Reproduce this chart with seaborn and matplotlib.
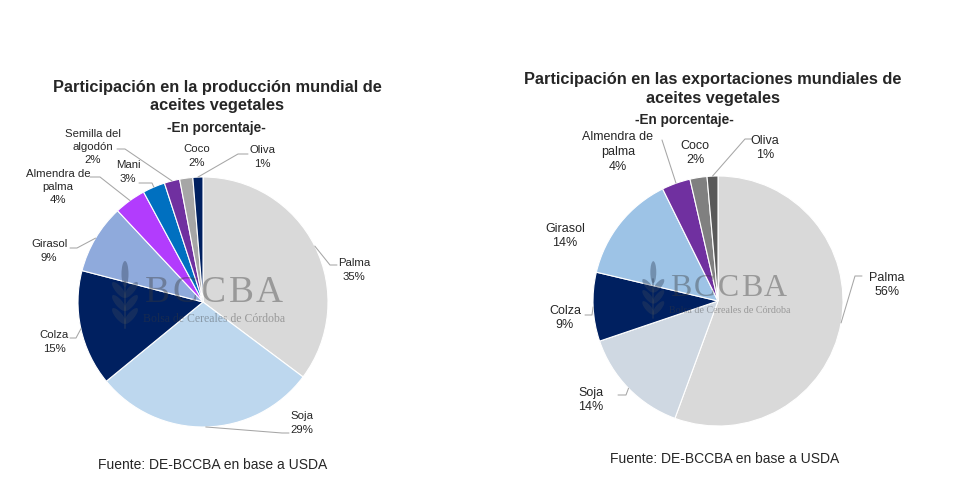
import numpy as np
import matplotlib
matplotlib.use("Agg")
import matplotlib.pyplot as plt
import seaborn as sns
from matplotlib.patches import Ellipse

sns.set_style("white")
plt.rcParams['font.family'] = ['Liberation Sans', 'DejaVu Sans']

# --- data (shares in %) ---
prod_names = ["Palma", "Soja", "Colza", "Girasol", "Almendra de\npalma", "Mani",
              "Semilla del\nalgodón", "Coco", "Oliva"]
prod_shares = [35.3, 28.9, 15.0, 9.0, 4.1, 2.9, 2.0, 1.7, 1.3]
prod_colors = ["#d9d9d9", "#bdd7ee", "#002060", "#8faadc", "#b23cfd", "#0070c0",
               "#7030a0", "#a6a6a6", "#002060"]

expo_names = ["Palma", "Soja", "Colza", "Girasol", "Almendra de\npalma", "Coco", "Oliva"]
expo_shares = [55.6, 14.2, 8.9, 14.0, 3.7, 2.2, 1.4]
expo_colors = ["#d9d9d9", "#cfd8e2", "#002060", "#9dc3e6", "#7030a0", "#808080", "#595959"]

W, H = 963, 503
R = 125

# label layout in pixels (x, y from top), leader elbow (ex, ey, end_x)
prod_label_pos = [(354, 270), (302, 423), (54, 342), (49, 251), (58, 187),
                  (128, 172), (93, 147), (197, 156), (262, 157)]
prod_leaders = [(330, 265, 337), (282, 433, 289), (76, 338, 70), (77, 248, 70),
                (100, 177, 90), (152, 183, 139), (125, 149, 117), None, (238, 154, 248)]

expo_label_pos = [(887, 285), (591, 400), (565, 318), (565, 236), (618, 152),
                  (695, 153), (765, 148)]
expo_leaders = [(855, 276, 862), (626, 395, 618), (592, 315, 585), None,
                (662, 140, 662), None, (745, 139, 752)]


def fy(y):
    return H - y


def draw_pie(ax, shares, names, colors, center, label_pos, leaders, fs, ls):
    cx, cy = center
    ax.pie(shares, colors=colors, startangle=90, counterclock=False,
           center=(cx, fy(cy)), radius=R, frame=True,
           wedgeprops=dict(edgecolor="white", linewidth=0.8))
    total = sum(shares)
    cum = np.cumsum([0] + list(shares))
    for i, (name, v) in enumerate(zip(names, shares)):
        mid = np.deg2rad(90 - 360 * (cum[i] + v / 2) / total)
        px, py = cx + R * np.cos(mid), fy(cy) + R * np.sin(mid)
        lx, ly = label_pos[i]
        ax.text(lx, fy(ly), f"{name}\n{round(v)}%", ha="center", va="center",
                fontsize=fs, linespacing=ls, color="#262626")
        if leaders[i] is not None:
            ex, ey, endx = leaders[i]
            ax.plot([px, ex, endx], [py, fy(ey), fy(ey)], color="#a6a6a6", lw=0.75)


def watermark(ax, x0, y0, s):
    # wheat icon
    col = "#33435c"
    ax.add_patch(Ellipse((x0 - 22 * s, fy(y0 - 28 * s)), 7 * s, 26 * s,
                         color=col, alpha=0.4, lw=0))
    for k in range(3):
        yy = y0 - 12 * s + k * 13 * s
        ax.add_patch(Ellipse((x0 - 28 * s, fy(yy)), 7 * s, 20 * s, angle=40,
                             color=col, alpha=0.4, lw=0))
        ax.add_patch(Ellipse((x0 - 16 * s, fy(yy)), 7 * s, 20 * s, angle=-40,
                             color=col, alpha=0.4, lw=0))
    ax.plot([x0 - 22 * s, x0 - 22 * s], [fy(y0 - 20 * s), fy(y0 + 26 * s)],
            color=col, alpha=0.4, lw=1.5 * s)
    for k, ch in enumerate("BCCBA"):
        ax.text(x0 + 10 * s + k * 28 * s, fy(y0), ch, ha="center", va="baseline",
                family="Liberation Serif", fontsize=27 * s, color="#3a3a3a", alpha=0.4)
    ax.text(x0 - 4 * s, fy(y0 + 20 * s), "Bolsa de Cereales de Córdoba", ha="left",
            va="baseline", family="Liberation Serif", fontsize=8.5 * s,
            color="#3a3a3a", alpha=0.4)


fig = plt.figure(figsize=(W / 100, H / 100), dpi=100)
ax = fig.add_axes([0, 0, 1, 1])

draw_pie(ax, prod_shares, prod_names, prod_colors, (203, 302), prod_label_pos,
         prod_leaders, 8.2, 1.38)
draw_pie(ax, expo_shares, expo_names, expo_colors, (718, 301), expo_label_pos,
         expo_leaders, 9.0, 1.33)

watermark(ax, 147, 302, 1.0)
watermark(ax, 672, 296, 0.85)

ax.text(217, fy(96.5), "Participación en la producción mundial de\naceites vegetales",
        ha="center", va="center", fontsize=11.8, fontweight="bold", linespacing=1.28)
ax.text(216, fy(128), "-En porcentaje-", ha="center", va="center", fontsize=9.8,
        fontweight="bold")
ax.text(713, fy(89), "Participación en las exportaciones mundiales de\naceites vegetales",
        ha="center", va="center", fontsize=11.8, fontweight="bold", linespacing=1.28)
ax.text(684, fy(120), "-En porcentaje-", ha="center", va="center", fontsize=9.8,
        fontweight="bold")

ax.text(213, fy(465), "Fuente: DE-BCCBA en base a USDA", ha="center", va="center",
        fontsize=10, color="#262626")
ax.text(725, fy(459), "Fuente: DE-BCCBA en base a USDA", ha="center", va="center",
        fontsize=10, color="#262626")

ax.set_xlim(0, W)
ax.set_ylim(0, H)
ax.set_aspect("equal")
ax.axis("off")

fig.savefig("out.png", dpi=100, facecolor="white")
